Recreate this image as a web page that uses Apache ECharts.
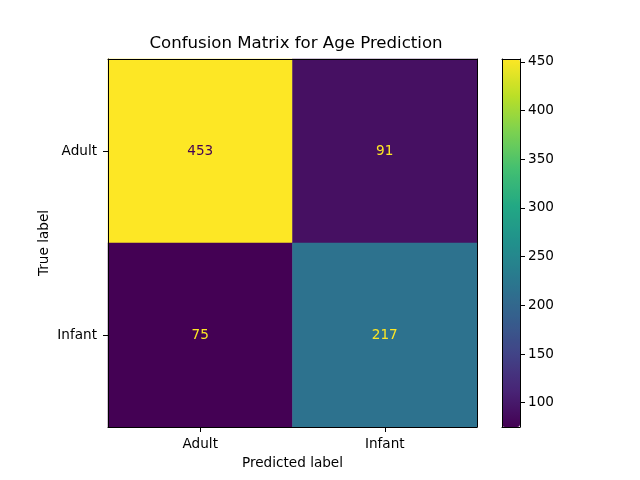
<!DOCTYPE html>
<html><head><meta charset="utf-8">
<script src="https://cdn.jsdelivr.net/npm/echarts@6/dist/echarts.min.js"></script>
<style>html,body{margin:0;padding:0;background:#fff}#c{width:640px;height:480px}</style>
</head><body><div id="c"></div>
<script>
const categories = ['Adult', 'Infant'];
const rowAdult = [453, 91];
const rowInfant = [75, 217];
const colorbarTicks = [100, 150, 200, 250, 300, 350, 400, 450];
const titleText = 'Confusion Matrix for Age Prediction';
const xName = 'Predicted label';
const yName = 'True label';

const rows = [rowAdult, rowInfant];
const data = [];
rows.forEach((r, yi) => r.forEach((v, xi) => data.push([xi, yi, v])));
const vmin = Math.min(...data.map(d => d[2]));
const vmax = Math.max(...data.map(d => d[2]));
const mid = (vmin + vmax) / 2;
const viridis = ['#440154','#482576','#414487','#35608D','#2A788E','#21908C','#22A884','#43BF71','#7AD151','#BBDF27','#FDE725'];
const FONT = 'DejaVu Sans';
const FS = 13.6;

const chart = echarts.init(document.getElementById('c'), null, {renderer: 'canvas'});
const hiddenAxis = {axisLabel:{show:false}, axisTick:{show:false}, splitLine:{show:false}};
chart.setOption({
  animation: false,
  backgroundColor: '#fff',
  textStyle: {fontFamily: FONT},
  title: {text: titleText, left: 291, top: 30, textAlign: 'center',
    textStyle: {fontFamily: FONT, fontSize: 16.6, fontWeight: 'normal', color: '#000'}},
  grid: [
    {left: 108, top: 59, width: 369, height: 368},
    {left: 502, top: 59, width: 18, height: 368}
  ],
  xAxis: [
    {gridIndex: 0, type: 'category', data: categories, position: 'bottom',
     axisLine: {show: true, lineStyle: {color: '#000', width: 1}}, z: 5,
     axisTick: {show: true, alignWithLabel: true, length: 5, lineStyle: {color: '#000'}},
     axisLabel: {color: '#000', fontSize: FS, fontFamily: FONT, margin: 10},
     splitLine: {show: false}, splitArea: {show: false},
     name: xName, nameLocation: 'middle', nameGap: 29, nameMoveOverlap: false,
     nameTextStyle: {color: '#000', fontSize: FS, fontFamily: FONT}},
    Object.assign({gridIndex: 0, type: 'category', data: categories, position: 'top', z: 5,
     axisLine: {show: true, onZero: false, lineStyle: {color: '#000', width: 1}}}, hiddenAxis),
    Object.assign({gridIndex: 1, type: 'value', min: 0, max: 1, position: 'bottom', z: 5,
     axisLine: {show: true, onZero: false, lineStyle: {color: '#000', width: 1}}}, hiddenAxis),
    Object.assign({gridIndex: 1, type: 'value', min: 0, max: 1, position: 'top', z: 5,
     axisLine: {show: true, onZero: false, lineStyle: {color: '#000', width: 1}}}, hiddenAxis)
  ],
  yAxis: [
    {gridIndex: 0, type: 'category', data: categories, inverse: true, position: 'left', z: 5,
     axisLine: {show: true, lineStyle: {color: '#000', width: 1}},
     axisTick: {show: true, alignWithLabel: true, length: 5, lineStyle: {color: '#000'}},
     axisLabel: {color: '#000', fontSize: FS, fontFamily: FONT, margin: 11},
     splitLine: {show: false}, splitArea: {show: false},
     name: yName, nameLocation: 'middle', nameGap: 57, nameMoveOverlap: false,
     nameTextStyle: {color: '#000', fontSize: FS, fontFamily: FONT}},
    Object.assign({gridIndex: 0, type: 'category', data: categories, inverse: true, position: 'right', z: 5,
     axisLine: {show: true, onZero: false, lineStyle: {color: '#000', width: 1}}}, hiddenAxis),
    {gridIndex: 1, type: 'value', min: vmin, max: vmax, position: 'right', z: 5,
     axisLine: {show: true, onZero: false, lineStyle: {color: '#000', width: 1}},
     axisTick: {show: true, length: 5, customValues: colorbarTicks, lineStyle: {color: '#000'}},
     axisLabel: {color: '#000', fontSize: FS, fontFamily: FONT, margin: 8, customValues: colorbarTicks},
     splitLine: {show: false}},
    Object.assign({gridIndex: 1, type: 'value', min: vmin, max: vmax, position: 'left', z: 5,
     axisLine: {show: true, onZero: false, lineStyle: {color: '#000', width: 1}}}, hiddenAxis)
  ],
  visualMap: {
    type: 'continuous', seriesIndex: 0, min: vmin, max: vmax, calculable: false,
    orient: 'vertical', itemWidth: 18, itemHeight: 368, left: 502, top: 59, padding: 0,
    text: null, showLabel: false, hoverLink: false, realtime: false,
    inRange: {color: viridis}
  },
  series: [{
    type: 'heatmap', xAxisIndex: 0, yAxisIndex: 0, data: data,
    emphasis: {disabled: true},
    label: {show: true, fontFamily: FONT, fontSize: FS,
      formatter: p => (p.value[2] > mid ? '{d|' : '{l|') + p.value[2] + '}',
      rich: {d: {color: '#440154', fontFamily: FONT, fontSize: FS},
             l: {color: '#FDE725', fontFamily: FONT, fontSize: FS}}}
  }]
});
</script></body></html>
